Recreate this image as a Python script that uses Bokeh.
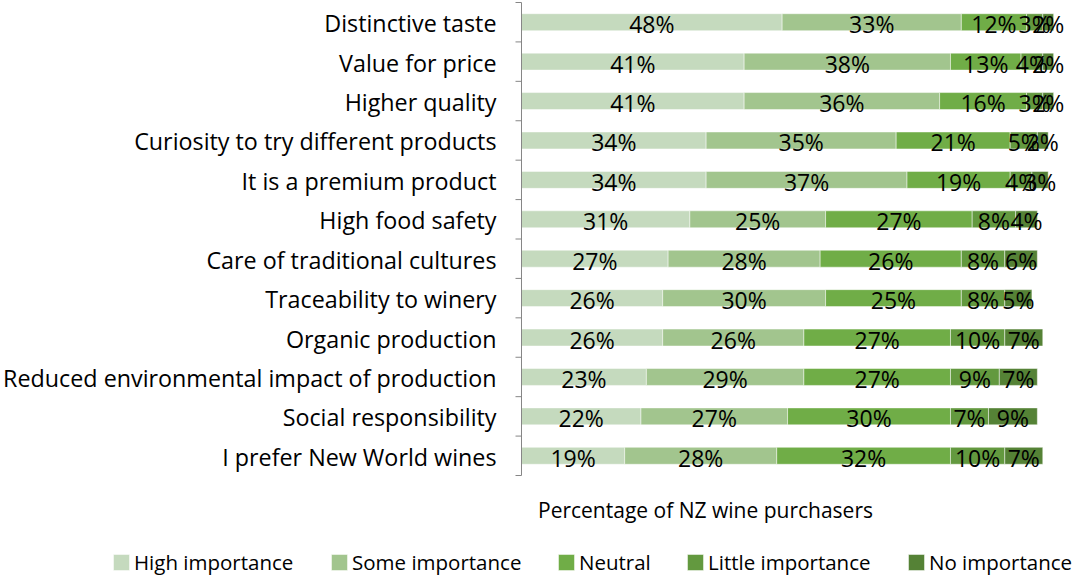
import math
from bokeh.plotting import figure
from bokeh.models import Range1d, Legend, LegendItem, ColumnDataSource
from bokeh.core.properties import value
from bokeh.embed import file_html
from bokeh.resources import INLINE

categories = [
    "Distinctive taste",
    "Value for price",
    "Higher quality",
    "Curiosity to try different products",
    "It is a premium product",
    "High food safety",
    "Care of traditional cultures",
    "Traceability to winery",
    "Organic production",
    "Reduced environmental impact of production",
    "Social responsibility",
    "I prefer New World wines",
]
high_importance = [48, 41, 41, 34, 34, 31, 27, 26, 26, 23, 22, 19]
some_importance = [33, 38, 36, 35, 37, 25, 28, 30, 26, 29, 27, 28]
neutral = [12, 13, 16, 21, 19, 27, 26, 25, 27, 27, 30, 32]
little_importance = [3, 4, 3, 5, 4, 8, 8, 8, 10, 9, 7, 10]
no_importance = [2, 2, 2, 2, 3, 4, 6, 5, 7, 7, 9, 7]

series_names = ["High importance", "Some importance", "Neutral",
                "Little importance", "No importance"]
series_values = [high_importance, some_importance, neutral,
                 little_importance, no_importance]
colors = ["#C5DABE", "#A2C58E", "#70AD47", "#63993F", "#558236"]
x_axis_title = "Percentage of NZ wine purchasers"

FONT = "Open Sans"
W, H = 1074, 576
n = len(categories)

# pixel layout of the plotting area inside the figure
AX_LEFT, AX_RIGHT = 521, 1064      # 0% and 100%
AX_TOP, AX_BOTTOM = 2, 475         # top and bottom of the category axis
LEGEND_X = [111, 329, 556, 685, 906]   # left edge of each legend entry (px)
px_per_x = (AX_RIGHT - AX_LEFT) / 100.0
px_per_row = (AX_BOTTOM - AX_TOP) / float(n)
x0 = -AX_LEFT / px_per_x
x1 = (W - AX_LEFT) / px_per_x
y_top = (n - 0.5) + AX_TOP / px_per_row
y_bot = y_top - H / px_per_row

def y_at(px):
    return y_top - px / px_per_row

def x_at(px):
    return x0 + px / px_per_x

ypos = [n - 1 - i for i in range(n)]
keys = ["s%d" % k for k in range(len(series_names))]
data = {"y": ypos, "cat": categories}
for k, vals in zip(keys, series_values):
    data[k] = vals
source = ColumnDataSource(data)

p = figure(width=W, height=H, x_range=Range1d(x0, x1),
           y_range=Range1d(y_bot, y_top), output_backend="svg",
           toolbar_location=None, x_axis_location=None, y_axis_location=None,
           min_border_left=0, min_border_right=0, min_border_top=0,
           min_border_bottom=0)
p.grid.visible = False
p.outline_line_color = None

renderers = p.hbar_stack(keys, y="y", height=0.43, color=colors,
                         line_color="white", line_width=0.8, line_alpha=0.6,
                         source=source)

# vertical category axis: line, outward boundary ticks, labels
p.segment(x0=[0], x1=[0], y0=[-0.5], y1=[n - 0.5], line_color="#868686",
          line_width=1)
p.ray(x=[0] * (n + 1), y=[k - 0.5 for k in range(n + 1)], length=6,
      length_units="screen", angle=math.pi, line_color="#868686", line_width=1)
p.text(x=[0] * n, y=ypos, text=categories, x_offset=-25, y_offset=1,
       text_align="right", text_baseline="middle", text_font=value(FONT),
       text_font_size="23.3px", text_color="black")

# data labels
lx, ly, lt = [], [], []
for i in range(n):
    start = 0
    for vals in series_values:
        v = vals[i]
        lx.append(start + v / 2.0)
        ly.append(ypos[i])
        lt.append("%d%%" % v)
        start += v
p.text(x=lx, y=ly, text=lt, text_align="center", text_baseline="middle",
       text_font=value(FONT), text_font_size="23px", text_color="black",
       y_offset=2)

# axis title
p.text(x=[x_at(705)], y=[y_at(509)], text=[x_axis_title], text_align="center",
       text_baseline="middle", text_font=value(FONT), text_font_size="21px",
       text_color="black")

# legend entries
for nm, r, lxp in zip(series_names, renderers, LEGEND_X):
    lg = Legend(items=[LegendItem(label=nm, renderers=[r])],
                orientation="horizontal", location=(lxp, 0),
                border_line_color=None, background_fill_alpha=0,
                glyph_width=20, glyph_height=20, label_standoff=3,
                spacing=0, padding=0, margin=0,
                label_text_font=FONT, label_text_font_size="20.5px",
                label_text_color="black")
    p.add_layout(lg, "center")

open("out.html", "w").write(file_html(p, INLINE))
